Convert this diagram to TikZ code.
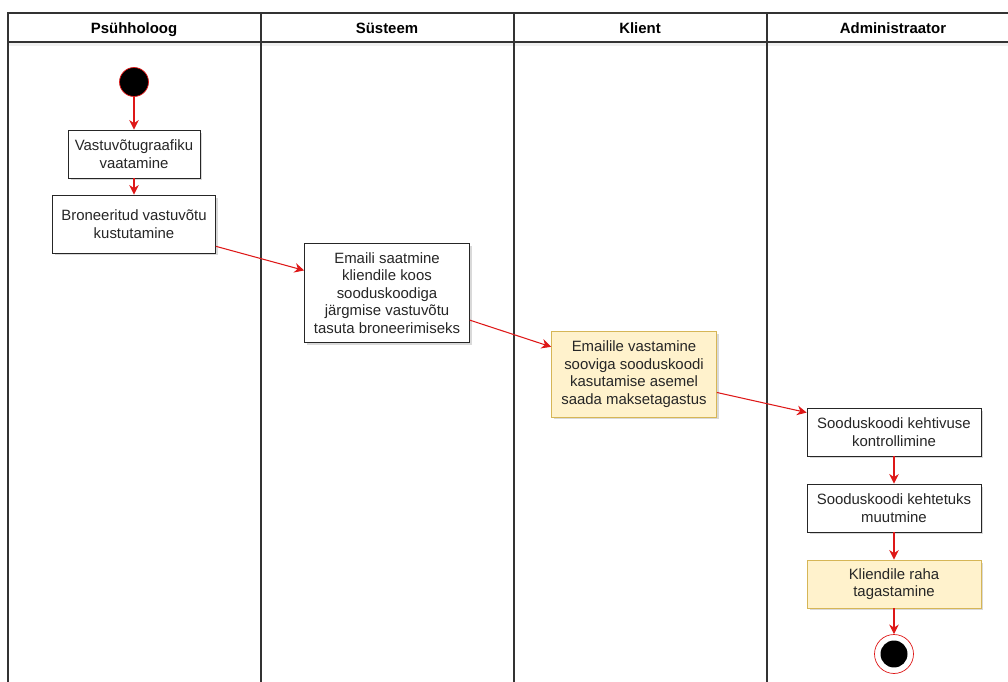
\documentclass[tikz,border=0pt]{standalone}
\usepackage{fontspec}
\setmainfont{Liberation Sans}
\usetikzlibrary{shapes, arrows.meta, shadows, calc, positioning}
\definecolor{flowred}{RGB}{222,24,24}
\definecolor{notefill}{RGB}{255,242,204}
\definecolor{noteline}{RGB}{214,182,86}
\colorlet{laneline}{black!80!white}

\tikzset{
    actbox/.style = {draw = black!85, fill = white, align = center, inner sep = 2pt,
        text = black!85, font = \fontsize{8.5pt}{10pt}\selectfont,
        drop shadow = {shadow xshift = 0.05cm, shadow yshift = -0.05cm, opacity = 0.25, fill = black!60}},
    notebox/.style = {actbox, draw = noteline, fill = notefill},
    flow/.style = {draw = flowred, line width = 0.6pt, -{Stealth[length = 5.5pt, width = 5.5pt]}},
    lanehead/.style = {font = \bfseries\fontsize{8.5pt}{10pt}\selectfont, text height = 1.6ex, text depth = 0.4ex}
}

\begin{document}
\begin{tikzpicture}[x = 0.02cm, y = -0.02cm]%{{{
                \useasboundingbox (0, 0) rectangle (1008, 682);

                % lanes
                \fill [black!6] (8, 42) rectangle (1008, 46);
                \draw [laneline, line width = 0.9pt] (1008, 13) -- (8, 13) -- (8, 682);
                \draw [laneline, line width = 0.9pt] (8, 42) -- (1008, 42);
                \draw [laneline, line width = 0.9pt] (261, 13) -- (261, 682);
                \draw [laneline, line width = 0.9pt] (514, 13) -- (514, 682);
                \draw [laneline, line width = 0.9pt] (767, 13) -- (767, 682);

                \node (H1) [lanehead] at (134, 28) { Psühholoog };
                \node (H2) [lanehead] at (387, 28) { Süsteem };
                \node (H3) [lanehead] at (640, 28) { Klient };
                \node (H4) [lanehead] at (893, 28) { Administraator };

                % activities
                \node (S) [draw = flowred, fill = black, circle, minimum size = 0.58cm, inner sep = 0pt] at (134, 82) {};
                \node (A1) [actbox, minimum width = 2.64cm, minimum height = 0.96cm] at (134, 154) { Vastuvõtugraafiku\\vaatamine };
                \node (A2) [actbox, minimum width = 3.26cm, minimum height = 1.16cm] at (134, 224) { Broneeritud vastuvõtu\\kustutamine };
                \node (A3) [actbox, minimum width = 3.3cm, minimum height = 1.98cm] at (387, 293) { Emaili saatmine\\kliendile koos\\sooduskoodiga\\järgmise vastuvõtu\\tasuta broneerimiseks };
                \node (A4) [notebox, minimum width = 3.3cm, minimum height = 1.72cm] at (634, 374) { Emailile vastamine\\sooviga sooduskoodi\\kasutamise asemel\\saada maksetagastus };
                \node (A5) [actbox, minimum width = 3.48cm, minimum height = 0.96cm] at (894, 432) { Sooduskoodi kehtivuse\\kontrollimine };
                \node (A6) [actbox, minimum width = 3.48cm, minimum height = 0.96cm] at (894, 508) { Sooduskoodi kehtetuks\\muutmine };
                \node (A7) [notebox, minimum width = 3.48cm, minimum height = 0.96cm] at (894, 584) { Kliendile raha\\tagastamine };
                \node (E) [draw = flowred, fill = white, circle, minimum size = 0.78cm, inner sep = 0pt] at (894, 654) {};
                \node (Ein) [fill = black, circle, minimum size = 0.54cm, inner sep = 0pt] at (E) {};

                % flow
                \draw [flow] (S) -- (A1);
                \draw [flow] (A1) -- (A2);
                \draw [flow] (A2) -- (A3);
                \draw [flow] (A3) -- (A4);
                \draw [flow] (A4) -- (A5);
                \draw [flow] (A5) -- (A6);
                \draw [flow] (A6) -- (A7);
                \draw [flow] (A7) -- (E);
            \end{tikzpicture}
\end{document}
